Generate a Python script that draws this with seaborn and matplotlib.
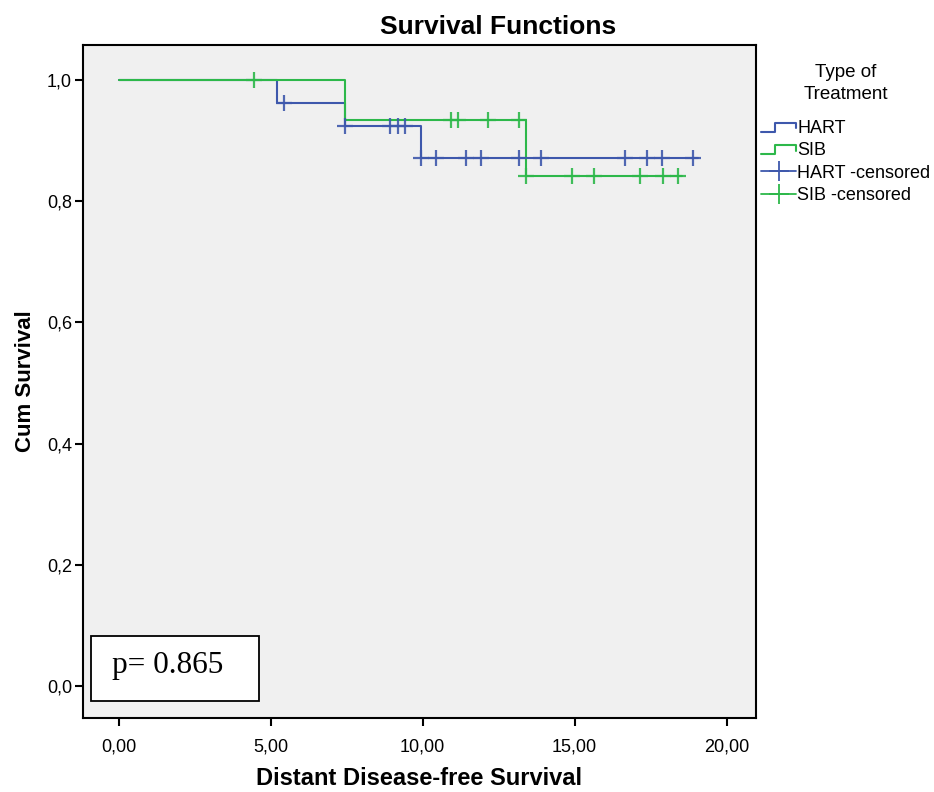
import numpy as np
import pandas as pd
import matplotlib
matplotlib.use("Agg")
import matplotlib.pyplot as plt
from matplotlib.lines import Line2D
from matplotlib.patches import Rectangle
from matplotlib.legend_handler import HandlerBase
from matplotlib.ticker import FuncFormatter
import seaborn as sns

# Kaplan-Meier step curves (time of step, survival after step)
hart_times = [0.0, 5.2, 7.45, 9.94, 19.06]
hart_surv = [1.0, 0.963, 0.925, 0.871, 0.871]
sib_times = [0.0, 7.45, 13.41, 18.55]
sib_surv = [1.0, 0.934, 0.841, 0.841]

# Censored observation times
hart_censored = [5.43, 7.45, 8.93, 9.18, 9.42, 9.94, 10.43, 11.42, 11.92,
                 13.17, 13.91, 16.66, 17.39, 17.89, 18.90]
sib_censored = [4.46, 10.93, 11.17, 12.16, 13.17, 13.41, 14.92, 15.65,
                17.15, 17.90, 18.39]

groups = ["HART", "SIB"]
legend_labels = ["HART", "SIB", "HART -censored", "SIB -censored"]
p_text = "p= 0.865"

xticks = [0, 5, 10, 15, 20]
yticks = [0.0, 0.2, 0.4, 0.6, 0.8, 1.0]

BLUE = "#3e58ac"
GREEN = "#2db84a"
palette = {"HART": BLUE, "SIB": GREEN}

sns.set_theme(style="white")
plt.rcParams["font.family"] = ["Liberation Sans", "DejaVu Sans"]
plt.rcParams["text.color"] = "black"
plt.rcParams["axes.labelcolor"] = "black"

curves = pd.concat([
    pd.DataFrame({"time": hart_times, "surv": hart_surv, "group": "HART"}),
    pd.DataFrame({"time": sib_times, "surv": sib_surv, "group": "SIB"}),
], ignore_index=True)


def surv_at(t, times, surv):
    idx = np.searchsorted(times, t, side="right") - 1
    return surv[max(idx, 0)]


cens = pd.concat([
    pd.DataFrame({"time": hart_censored,
                  "surv": [surv_at(t, hart_times, hart_surv) for t in hart_censored],
                  "group": "HART"}),
    pd.DataFrame({"time": sib_censored,
                  "surv": [surv_at(t, sib_times, sib_surv) for t in sib_censored],
                  "group": "SIB"}),
], ignore_index=True)

fig = plt.figure(figsize=(9.34, 7.92), dpi=100)
ax = fig.add_axes([83 / 934, 74 / 792, 673 / 934, 673 / 792])
ax.set_facecolor("#f0f0f0")

sns.lineplot(data=curves, x="time", y="surv", hue="group", palette=palette,
             drawstyle="steps-post", linewidth=1.5, legend=False, ax=ax,
             estimator=None, sort=False)
for g in groups:
    sub = cens[cens["group"] == g]
    ax.plot(sub["time"], sub["surv"], linestyle="none", marker="+",
            markersize=11, markeredgewidth=1.6, color=palette[g], alpha=0.9)

ax.set_xlim(-1.17, 20.97)
ax.set_ylim(-0.053, 1.058)
ax.set_xticks(xticks)
ax.set_yticks(yticks)
ax.xaxis.set_major_formatter(FuncFormatter(lambda v, _: f"{v:.2f}".replace(".", ",")))
ax.yaxis.set_major_formatter(FuncFormatter(lambda v, _: f"{v:.1f}".replace(".", ",")))
ax.tick_params(axis="both", direction="out", length=6, width=1.5, color="black",
               labelsize=13, labelcolor="black", left=True, bottom=True)
ax.tick_params(axis="x", pad=9)
ax.tick_params(axis="y", pad=2)
for s in ax.spines.values():
    s.set_color("black")
    s.set_linewidth(1.5)

ax.set_xlabel("Distant Disease-free Survival", fontsize=17, fontweight="bold",
              labelpad=8)
ax.set_ylabel("Cum Survival", fontsize=16, fontweight="bold", labelpad=8)

fig.text(498 / 934, 1 - 27 / 792, "Survival Functions", fontsize=19,
         fontweight="bold", ha="center", va="center")

# p-value box
fig.patches.append(Rectangle((91 / 934, 1 - 701 / 792), 168 / 934, 65 / 792,
                             transform=fig.transFigure, facecolor="white",
                             edgecolor="black", linewidth=1.3, zorder=5))
fig.text(168 / 934, 1 - 666 / 792, p_text, fontsize=22.5, ha="center", va="center",
         family=["Liberation Serif", "DejaVu Serif"], zorder=6)


class StepHandler(HandlerBase):
    def __init__(self, color):
        super().__init__()
        self.color = color

    def create_artists(self, legend, orig_handle, xdescent, ydescent, width,
                       height, fontsize, trans):
        x0, x1 = -xdescent, -xdescent + width
        xm = x0 + width * 0.4
        ylo = -ydescent + height * 0.1
        yhi = -ydescent + height * 0.8
        line = Line2D([x0, xm, xm, x1, x1], [ylo, ylo, yhi, yhi, -ydescent + height * 0.35],
                      color=self.color, linewidth=1.5, transform=trans)
        return [line]


h_hart = Line2D([], [], color=BLUE)
h_sib = Line2D([], [], color=GREEN)
h_hc = Line2D([], [], color=BLUE, marker="+", markersize=15, markeredgewidth=1.3,
              linewidth=1.3)
h_sc = Line2D([], [], color=GREEN, marker="+", markersize=15, markeredgewidth=1.3,
              linewidth=1.3)
leg = fig.legend([h_hart, h_sib, h_hc, h_sc], legend_labels,
                 handler_map={h_hart: StepHandler(BLUE), h_sib: StepHandler(GREEN)},
                 loc="upper left", bbox_to_anchor=(761 / 934, 1 - 64 / 792),
                 frameon=False, fontsize=13, title="Type of\nTreatment",
                 title_fontsize=13.5, handlelength=1.95, handletextpad=0.05,
                 labelspacing=0.3, borderpad=0, borderaxespad=0)
leg._legend_box.align = "center"
leg._legend_box.sep = 12
leg.get_title().set_multialignment("center")
leg.get_title().set_linespacing(1.4)

fig.savefig("out.png", dpi=100, facecolor="white")
